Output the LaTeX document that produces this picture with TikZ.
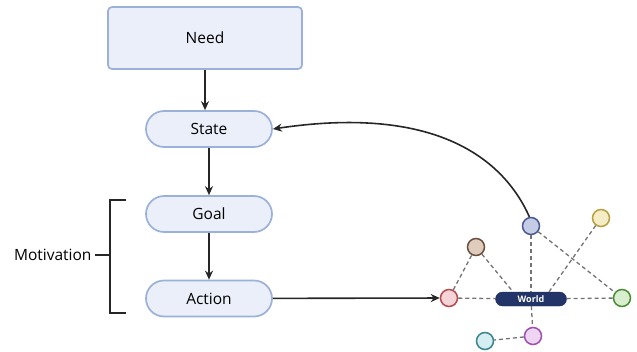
\documentclass[tikz,border=0pt]{standalone}
\usepackage{fontspec}
\setmainfont{Open Sans}
\usepackage{xcolor}
\usetikzlibrary{arrows.meta}
\definecolor{boxfill}{HTML}{EBEFF9}
\definecolor{boxline}{HTML}{9CB1DA}
\definecolor{worldfill}{HTML}{233469}
\tikzstyle{box}=[draw=boxline, fill=boxfill, line width=1.7pt, rounded corners=4pt, minimum width=194pt, minimum height=62pt, font=\fontsize{15.5}{18}\selectfont]
\tikzstyle{pill}=[draw=boxline, fill=boxfill, line width=1.7pt, rounded corners=18pt, minimum width=126pt, minimum height=36pt, font=\fontsize{15.5}{18}\selectfont]
\tikzstyle{flow}=[line width=1.6pt, -{Stealth[length=9pt,width=8pt]}, black!85]
\tikzstyle{link}=[black!55, line width=1.3pt, dash pattern=on 4pt off 3pt]
\tikzstyle{dot}=[shape=circle, line width=1.5pt, minimum size=17pt, inner sep=0pt]

\begin{document}
\begin{tikzpicture}[x=1pt,y=-1pt]
            \useasboundingbox (0,0) rectangle (637,351);
            \node[box] (need) at (205,38) {Need};
            \node[pill] (state) at (209,129) {State};
            \node[pill] (goal) at (209,214) {Goal};
            \node[pill] (action) at (209,298.5) {Action};
            \node[font=\fontsize{15.5}{18}\selectfont, anchor=east] (motiv) at (95,255) {Motivation};
            \draw[flow] (need.south -| 205,0) -- (state.north -| 205,0);
            \draw[flow] (state) -- (goal);
            \draw[flow] (goal) -- (action);
            \draw[line width=1.6pt, black!85] (126,200) -- (110,200) -- (110,313) -- (126,313);
            \draw[line width=1.6pt, black!85] (motiv.east) -- (110,255);
            \node[fill=worldfill, draw=worldfill!80!black, rounded corners=7pt, minimum width=71pt, minimum height=14pt, inner sep=0pt, text=white, font=\fontsize{9}{10}\selectfont\bfseries] (world) at (531,299) {World};
            \node[dot, draw={rgb,255:red,184;green,74;blue,80}, fill={rgb,255:red,244;green,212;blue,214}] (red) at (449,298) {};
            \node[dot, draw={rgb,255:red,107;green,80;blue,64}, fill={rgb,255:red,224;green,204;blue,189}] (brown) at (476,247) {};
            \node[dot, draw={rgb,255:red,74;green,90;blue,150}, fill={rgb,255:red,197;green,204;blue,229}] (blue) at (531,226) {};
            \node[dot, draw={rgb,255:red,184;green,160;blue,64}, fill={rgb,255:red,245;green,237;blue,197}] (yellow) at (601,218) {};
            \node[dot, draw={rgb,255:red,74;green,143;blue,53}, fill={rgb,255:red,217;green,237;blue,207}] (green) at (622,298) {};
            \node[dot, draw={rgb,255:red,160;green,80;blue,176}, fill={rgb,255:red,237;green,213;blue,243}] (purple) at (533,336) {};
            \node[dot, draw={rgb,255:red,58;green,133;blue,144}, fill={rgb,255:red,213;green,238;blue,242}] (cyan) at (485,341) {};
            \draw[link] (red) -- (brown);
            \draw[link] (brown) -- ([xshift=-18pt]world.north);
            \draw[link] (red) -- (world);
            \draw[link] (blue) -- (world);
            \draw[link] (blue) -- (green);
            \draw[link] (yellow) -- ([xshift=18pt]world.north);
            \draw[link] (world) -- (green);
            \draw[link] (world) -- (purple);
            \draw[link] (purple) -- (cyan);
            \draw[flow] (action) -- (red);
            \draw[flow] (blue.100) .. controls (505,162) and (440,104) .. (state.east);
        \end{tikzpicture}
\end{document}
